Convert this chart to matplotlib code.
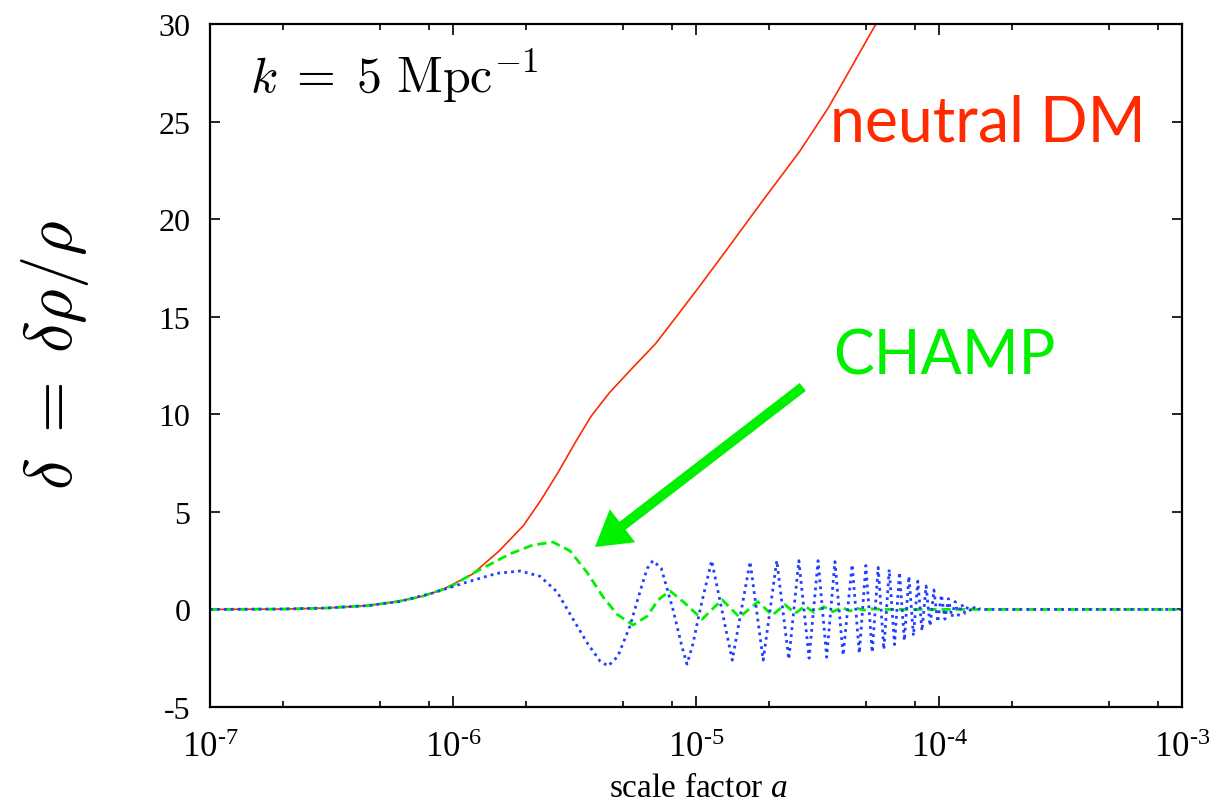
import matplotlib
matplotlib.use("Agg")
import matplotlib.pyplot as plt
from matplotlib.ticker import FixedLocator, NullFormatter

plt.rcParams['mathtext.fontset'] = 'custom'
plt.rcParams['mathtext.rm'] = 'Liberation Serif'
plt.rcParams['mathtext.it'] = 'Liberation Serif:italic'
plt.rcParams['font.family'] = ['Liberation Serif', 'DejaVu Serif']

# ---------------- data ----------------
neutral_a = [1e-7, 2e-7, 3e-7, 4.5e-7, 6e-7, 7.5e-7, 9e-7, 1.2e-6, 1.55e-6, 1.95e-6,
             2.3e-6, 2.7e-6, 3.2e-6, 3.7e-6, 4.4e-6, 5.5e-6, 6.8e-6, 8.3e-6, 1.04e-5,
             1.35e-5, 1.87e-5, 2.68e-5, 3.5e-5, 4.1e-5, 5.5e-5, 7e-5]
neutral_d = [0.0, 0.02, 0.07, 0.2, 0.42, 0.68, 1.0, 1.8, 3.0, 4.3,
             5.6, 7.0, 8.6, 9.9, 11.1, 12.4, 13.6, 15.0, 16.6,
             18.5, 20.9, 23.5, 25.7, 27.2, 30.0, 32.5]

champ_a = [1e-7, 2e-7, 3e-7, 4.5e-7, 6e-7, 7.5e-7, 9.7e-7, 1.26e-6, 1.72e-6, 2.13e-6,
           2.58e-6, 3.03e-6, 3.56e-6, 4.14e-6, 4.73e-6, 5.51e-6, 6.29e-6, 7.0e-6, 7.81e-6,
           8.85e-6, 1.06e-5, 1.28e-5, 1.51e-5, 1.80e-5, 2.06e-5, 2.32e-5, 2.56e-5,
           2.81e-5, 3.06e-5, 3.36e-5, 3.66e-5, 3.98e-5, 4.3e-5, 4.6e-5, 4.9e-5, 5.2e-5,
           6e-5, 1e-3]
champ_d = [0.0, 0.02, 0.07, 0.2, 0.42, 0.68, 1.15, 1.97, 2.85, 3.3,
           3.45, 3.0, 1.9, 0.65, -0.25, -0.8, -0.35, 0.5, 0.95,
           0.4, -0.5, 0.5, -0.4, 0.4, -0.3, 0.25, -0.2,
           0.17, -0.15, 0.13, -0.12, 0.1, -0.08, 0.06, -0.04, 0.03,
           0.0, 0.0]

sound_a = [1e-7, 2e-7, 3e-7, 4.5e-7, 6e-7, 8.3e-7, 1.14e-6, 1.52e-6, 1.89e-6, 2.28e-6,
           2.68e-6, 3.12e-6, 3.56e-6, 4.03e-6, 4.35e-6, 4.77e-6, 5.35e-6, 5.88e-6, 6.3e-6,
           6.65e-6, 7.2e-6, 8.04e-6, 8.75e-6, 9.18e-6, 9.7e-6, 1.04e-5, 1.16e-5,
           1.41e-5, 1.67e-5, 1.89e-5, 2.15e-5, 2.41e-5, 2.65e-5, 2.92e-5, 3.18e-5,
           3.45e-5, 3.73e-5, 4.03e-5, 4.39e-5, 4.70e-5, 5.00e-5, 5.31e-5, 5.62e-5,
           5.93e-5, 6.24e-5, 6.56e-5, 6.88e-5, 7.20e-5, 7.52e-5, 7.85e-5, 8.18e-5,
           8.51e-5, 8.85e-5, 9.19e-5, 9.53e-5, 9.88e-5, 1.023e-4, 1.058e-4, 1.094e-4,
           1.13e-4, 1.166e-4, 1.202e-4, 1.24e-4, 1.278e-4, 1.316e-4, 1.355e-4, 1.394e-4,
           1.434e-4, 1.474e-4, 1.55e-4, 1e-3]
sound_d = [0.0, 0.02, 0.07, 0.2, 0.4, 0.85, 1.4, 1.85, 1.97, 1.7,
           0.9, -0.5, -1.7, -2.65, -2.9, -2.4, -0.85, 0.9, 2.1,
           2.5, 2.1, 0.0, -1.9, -2.8, -1.8, 0.0, 2.5,
           -2.6, 2.45, -2.6, 2.5, -2.55, 2.5, -2.5, 2.5,
           -2.45, 2.45, -2.35, 2.3, -2.25, 2.25, -2.2, 2.15,
           -2.05, 2.05, -1.8, 1.9, -1.6, 1.7, -1.35, 1.45,
           -1.1, 1.2, -0.85, 1.0, -0.65, 0.75, -0.5, 0.55,
           -0.4, 0.4, -0.3, 0.28, -0.2, 0.18, -0.12, 0.1,
           -0.05, 0.03, 0.0, 0.0]

x_major = [1e-7, 1e-6, 1e-5, 1e-4, 1e-3]
x_labels = [r'$10^{\text{-}7}$', r'$10^{\text{-}6}$', r'$10^{\text{-}5}$',
            r'$10^{\text{-}4}$', r'$10^{\text{-}3}$']
x_minor = [m * d for d in [1e-7, 1e-6, 1e-5, 1e-4] for m in (2, 5, 8)]
y_ticks = [-5, 0, 5, 10, 15, 20, 25, 30]

RED = '#FF2A00'
GREEN = '#00F000'
BLUE = '#2040FF'

# ---------------- figure ----------------
fig = plt.figure(figsize=(12.09, 8.03), dpi=100)
ax = fig.add_axes([210 / 1209, 1 - 708 / 803, (1182 - 210) / 1209, (708 - 25) / 803])

ax.plot(neutral_a, neutral_d, color=RED, lw=1.2)
ax.plot(champ_a, champ_d, color=GREEN, lw=2.0, linestyle=(0, (3.3, 1.8)))
ax.plot(sound_a, sound_d, color=BLUE, lw=2.0, linestyle=(0, (1, 1.5)))

ax.set_xscale('log')
ax.set_xlim(1e-7, 1e-3)
ax.set_ylim(-5, 30)
ax.set_xticks(x_major)
ax.set_xticklabels(x_labels)
ax.xaxis.set_minor_locator(FixedLocator(x_minor))
ax.xaxis.set_minor_formatter(NullFormatter())
ax.set_yticks(y_ticks)
ax.set_yticklabels([str(v) for v in y_ticks])

ax.tick_params(which='both', direction='in', top=True, right=True, width=1.2, color='black')
ax.tick_params(axis='x', which='major', length=8, labelsize=25, pad=17)
ax.tick_params(axis='x', which='minor', length=4)
ax.tick_params(axis='y', which='major', length=7.5, labelsize=23, pad=14)
for s in ax.spines.values():
    s.set_linewidth(1.6)

fig.text(698 / 1209, 1 - 789 / 803, 'scale factor $\\mathit{a}$', fontsize=24,
         ha='center', va='center')
fig.text(55 / 1209, 1 - 355 / 803, r'$\delta\;=\;\delta\rho/\rho$', fontsize=48,
         rotation=90, ha='center', va='center', math_fontfamily='cm')

ax.text((250 - 210) / 972, (708 - 93) / 683, r'$k\;=\;5\ \mathrm{Mpc}^{-1}$',
        transform=ax.transAxes, fontsize=36, ha='left', va='baseline',
        math_fontfamily='cm')
ax.text((830 - 210) / 972, (708 - 142) / 683, 'neutral DM', transform=ax.transAxes,
        fontsize=45, color=RED, family='Lato', ha='left', va='baseline')
ax.text((833 - 210) / 972, (708 - 375) / 683, 'CHAMP', transform=ax.transAxes,
        fontsize=44, color=GREEN, family='Lato', ha='left', va='baseline')

ax.annotate('', xy=(3.84e-6, 3.2), xytext=(2.75e-5, 11.4),
            arrowprops=dict(arrowstyle='simple,head_length=1.25,head_width=1.5,tail_width=0.36',
                            mutation_scale=20, color=GREEN, lw=0,
                            shrinkA=0, shrinkB=0))

fig.savefig('out.png', dpi=100)
